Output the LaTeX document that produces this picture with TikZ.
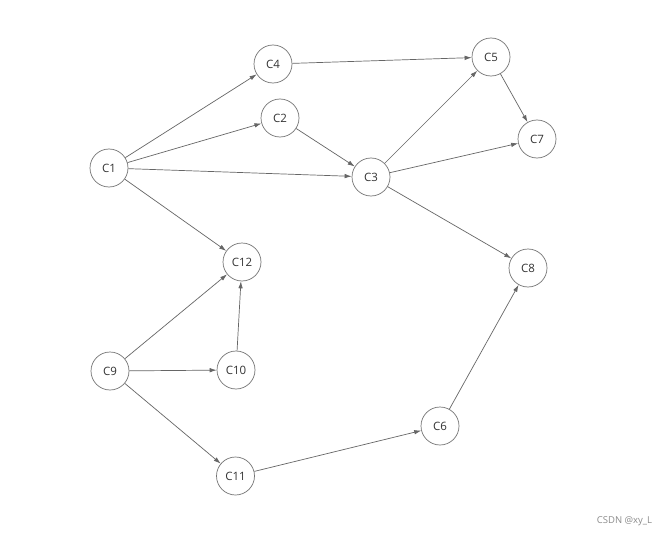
\documentclass[tikz,border=0pt]{standalone}
\usepackage{fontspec}
\setmainfont{Open Sans}
\usetikzlibrary{arrows.meta}
\begin{document}
\begin{tikzpicture}[x=1pt,y=-1pt,
  cnode/.style={circle,draw=black!55,line width=0.7pt,minimum size=38pt,inner sep=0pt,font=\fontsize{11.5}{13}\selectfont,text=black!80},
  edge/.style={draw=black!60,line width=0.7pt,-{Latex[length=7pt,width=4.5pt]}}]
\useasboundingbox[fill=white] (0,0) rectangle (667,535);
\node[cnode] (c1) at (109,168) {C1};
\node[cnode] (c4) at (273,64) {C4};
\node[cnode] (c2) at (280,118) {C2};
\node[cnode] (c3) at (371,177) {C3};
\node[cnode] (c5) at (491,57) {C5};
\node[cnode] (c7) at (537,139) {C7};
\node[cnode] (c8) at (528,268) {C8};
\node[cnode] (c12) at (242,262) {C12};
\node[cnode] (c9) at (110,371) {C9};
\node[cnode] (c10) at (236,370) {C10};
\node[cnode] (c11) at (235.5,476) {C11};
\node[cnode] (c6) at (440,426) {C6};
\draw[edge] (c1) -- (c4);
\draw[edge] (c1) -- (c2);
\draw[edge] (c1) -- (c3);
\draw[edge] (c1) -- (c12);
\draw[edge] (c4) -- (c5);
\draw[edge] (c2) -- (c3);
\draw[edge] (c3) -- (c5);
\draw[edge] (c3) -- (c7);
\draw[edge] (c3) -- (c8);
\draw[edge] (c5) -- (c7);
\draw[edge] (c9) -- (c12);
\draw[edge] (c9) -- (c10);
\draw[edge] (c9) -- (c11);
\draw[edge] (c10) -- (c12);
\draw[edge] (c11) -- (c6);
\draw[edge] (c6) -- (c8);
\node[font=\fontsize{9.5}{11}\selectfont,text=black!45] (wm) at (624.5,521) {CSDN @xy\_L};
\end{tikzpicture}
\end{document}
